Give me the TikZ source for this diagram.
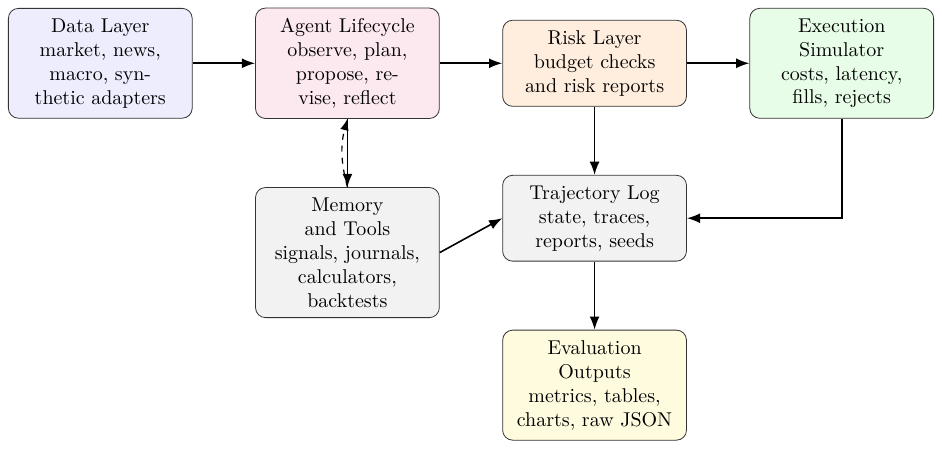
\documentclass[tikz,border=0pt]{standalone}
\usepackage{xcolor}
\usepackage{tikz}
\usetikzlibrary{arrows.meta, positioning}
\definecolor{laydata}{HTML}{EDEDFD}
\definecolor{layagent}{HTML}{FCE9EF}
\definecolor{layrisk}{HTML}{FFEEDD}
\definecolor{layexec}{HTML}{E8FDE8}
\definecolor{laylog}{HTML}{F2F2F2}
\definecolor{layeval}{HTML}{FFFBDF}
\definecolor{layedge}{HTML}{333333}

\begin{document}
\begin{tikzpicture}[
    layer/.style={draw=layedge, rounded corners=5pt, text width=3cm,
                  align=center, inner xsep=0.3333em, inner ysep=5.1pt},
    flow/.style={-{Latex}, thick},
  ]
  % top row
  \node[layer, fill=laydata] (data)
      {Data Layer\\ market, news,\\ macro, syn-\\ thetic adapters};
  \node[layer, fill=layagent, right=1.1cm of data] (agent)
      {Agent Lifecycle\\ observe, plan,\\ propose, re-\\ vise, reflect};
  \node[layer, fill=layrisk, right=1.1cm of agent] (risk)
      {Risk Layer\\ budget checks\\ and risk reports};
  \node[layer, fill=layexec, right=1.1cm of risk] (exec)
      {Execution\\ Simulator\\ costs, latency,\\ fills, rejects};
  % lower rows
  \node[layer, fill=laylog, below=1.2cm of agent] (memory)
      {Memory\\ and Tools\\ signals, journals,\\ calculators,\\ backtests};
  \node[layer, fill=laylog, below=1.2cm of risk] (traj)
      {Trajectory Log\\ state, traces,\\ reports, seeds};
  \node[layer, fill=layeval, below=1.2cm of traj] (eval)
      {Evaluation\\ Outputs\\ metrics, tables,\\ charts, raw JSON};
  % connectors
  \draw[flow] (data) -- (agent);
  \draw[flow] (agent) -- (risk);
  \draw[flow] (risk) -- (exec);
  \draw[flow] (risk) -- (traj);
  \draw[flow] (exec.south) |- (traj.east);
  \draw[flow] (memory.east) -- (traj.west);
  \draw[flow] (traj) -- (eval);
  \draw[flow] (agent.south) -- (memory.north);
  \draw[flow, dashed, semithick] (memory.north) to[bend left=15] (agent.south);
  % margins
  \path ([shift={(-4pt,4pt)}]data.north west)
        rectangle ([shift={(4pt,-4pt)}]eval.south -| exec.east);
\end{tikzpicture}
\end{document}
